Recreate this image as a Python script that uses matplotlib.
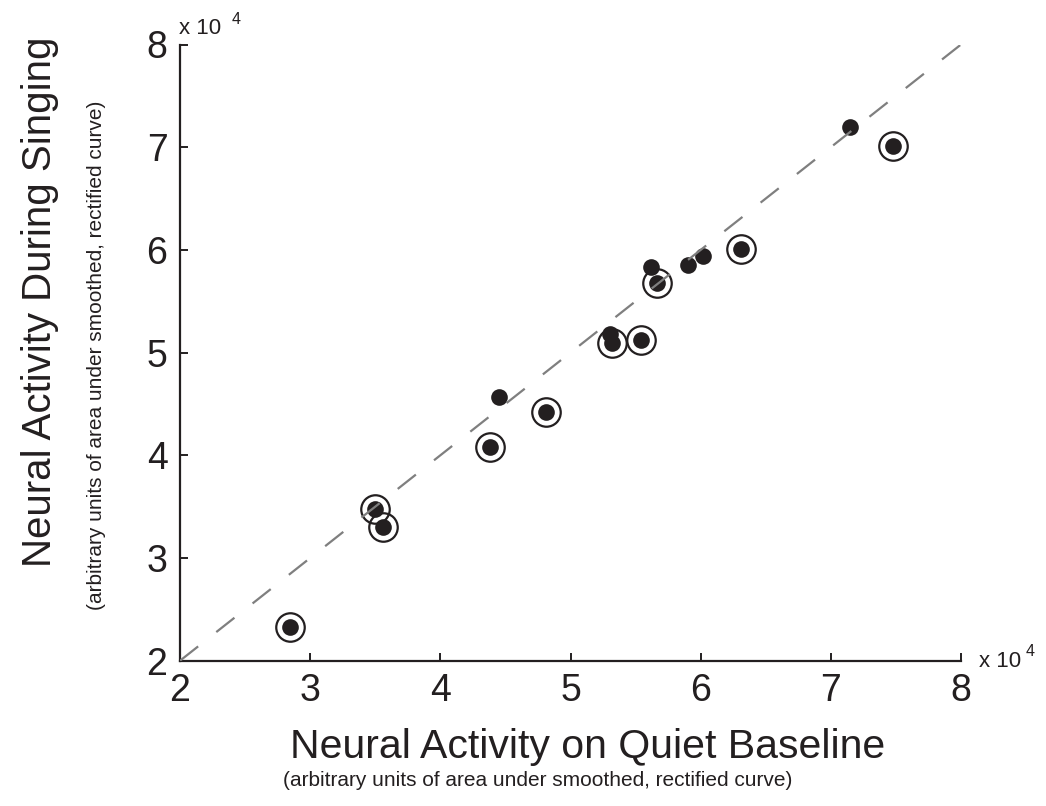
import matplotlib
matplotlib.use("Agg")
import matplotlib.pyplot as plt

plt.rcParams['font.family'] = ['Liberation Sans', 'DejaVu Sans']

# values in units of 10^4
dots_x = [7.15, 6.02, 5.90, 5.615, 5.30, 4.45]
dots_y = [7.20, 5.94, 5.85, 5.83, 5.18, 4.57]

circ_x = [7.475, 6.31, 5.665, 5.32, 5.54, 4.81, 4.38, 3.50, 3.56, 2.846]
circ_y = [7.015, 6.01, 5.68, 5.096, 5.12, 4.42, 4.08, 3.48, 3.30, 2.33]

ticks = [2, 3, 4, 5, 6, 7, 8]

W, H = 1046, 806
fig = plt.figure(figsize=(W / 100, H / 100), dpi=100)
ax = fig.add_axes([180 / W, 1 - 660.7 / H, 781 / W, 616.2 / H])

dark = '#231f20'
ax.plot(dots_x + circ_x, dots_y + circ_y, 'o', color=dark, ms=12, mec='none', zorder=2)
ax.plot(circ_x, circ_y, 'o', mfc='none', mec=dark, ms=20.5, mew=1.6, zorder=3)
ax.plot([2, 8], [2, 8], color='#7f7f7f', lw=1.6, linestyle=(0, (10.4, 10.4)), zorder=4)

ax.set_xlim(2, 8)
ax.set_ylim(2, 8)
ax.set_xticks(ticks)
ax.set_yticks(ticks)
ax.set_xticklabels([str(t) for t in ticks])
ax.set_yticklabels([str(t) for t in ticks])
ax.tick_params(direction='in', length=6, width=1.4, labelsize=27, colors=dark, pad=9)
ax.spines['top'].set_visible(False)
ax.spines['right'].set_visible(False)
for s in ['left', 'bottom']:
	ax.spines[s].set_linewidth(1.6)
	ax.spines[s].set_color(dark)

def ftext(px, py, s, **kw):
	fig.text(px / W, 1 - py / H, s, color=dark, **kw)

ftext(40, 302, 'Neural Activity During Singing', fontsize=29, rotation=90, ha='center', va='center')
ftext(97, 355, '(arbitrary units of area under smoothed, rectified curve)', fontsize=15, rotation=90, ha='center', va='center')
ftext(588, 747, 'Neural Activity on Quiet Baseline', fontsize=29.5, ha='center', va='center')
ftext(538, 780, '(arbitrary units of area under smoothed, rectified curve)', fontsize=15, ha='center', va='center')

# x 10^4 multipliers
ftext(179, 34, 'x 10', fontsize=16, ha='left', va='baseline')
ftext(232, 24, '4', fontsize=11.5, ha='left', va='baseline')
ftext(979, 667, 'x 10', fontsize=16, ha='left', va='baseline')
ftext(1026, 656, '4', fontsize=11.5, ha='left', va='baseline')

fig.savefig('out.png', dpi=100)
